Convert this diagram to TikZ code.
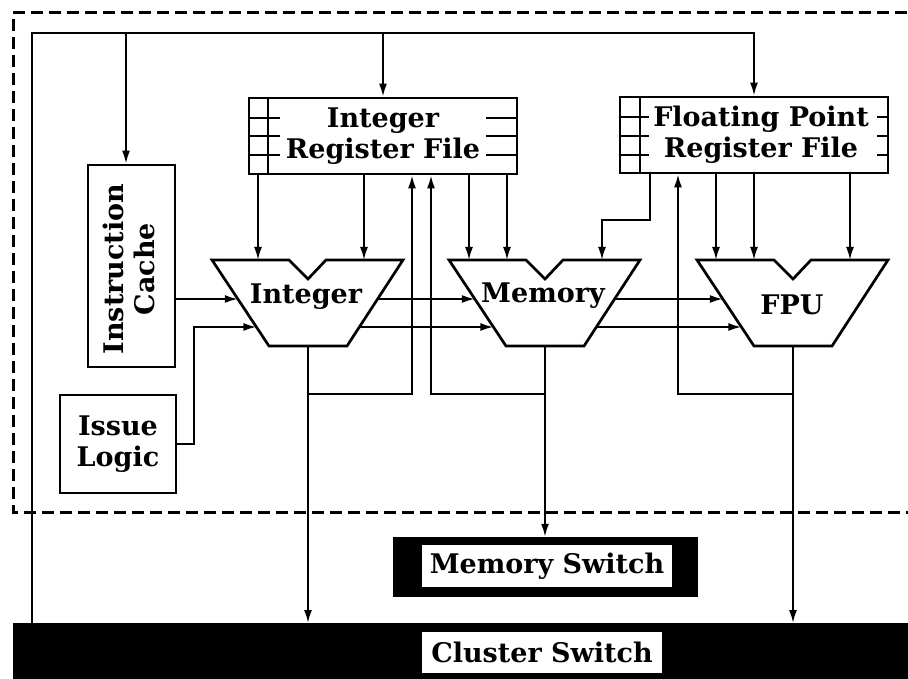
\documentclass[tikz,border=0pt]{standalone}
\usepackage{fontspec}
\setmainfont{DejaVu Serif}
\usetikzlibrary{arrows.meta}

% ALU outline with its port coordinates: #1 = prefix, #2 = left x of the top edge
\newcommand\aluoutline[2]{%
  \draw[box] (#2,260) -- ++(77,0) -- ++(19,19) -- ++(18,-19) -- ++(77,0)
    -- ++(-56,86) -- ++(-78,0) -- cycle;
  \coordinate (#1-l1) at ({#2+(299-260)*57/86},299);
  \coordinate (#1-l2) at ({#2+(327-260)*57/86},327);
  \coordinate (#1-r1) at ({#2+191-(299-260)*56/86},299);
  \coordinate (#1-r2) at ({#2+191-(327-260)*56/86},327);
  \coordinate (#1-out) at ({#2+96},346);
}

\begin{document}
\begin{tikzpicture}[x=1pt,y=-1pt,
  wire/.style={line width=2pt},
  arr/.style={wire,-{Latex[length=13pt,width=8pt]}},
  box/.style={draw,line width=2.7pt,line join=miter},
  lbl/.style={font=\fontsize{27}{31}\selectfont\bfseries,align=center,inner sep=0pt},
]
\useasboundingbox (0,0) rectangle (908,679);

% cluster boundary
\draw[line width=3pt,dash pattern=on 12pt off 6pt] (925,13) -- (13,13) -- (13,512) -- (925,512);

% register files
\node[box,lbl,minimum width=268pt,minimum height=76pt] (intrf) at (383,136) {Integer\\Register File};
\draw[wire] (268,98) -- (268,174);
\foreach \y in {118,136,155} {
  \draw[wire] (249,\y) -- (280,\y);
  \draw[wire] (486,\y) -- (517,\y);
}
\node[box,minimum width=268pt,minimum height=76pt] (fprf) at (754,135) {};
\node[lbl] (fprft) at (761,135) {Floating Point\\Register File};
\draw[wire] (640,97) -- (640,173);
\foreach \y in {117,136,155} {
  \draw[wire] (620,\y) -- (649,\y);
  \draw[wire] (877,\y) -- (888,\y);
}

% instruction cache and issue logic
\node[box,minimum width=87pt,minimum height=202pt] (icache) at (131.5,266) {};
\node[lbl,rotate=90] (icachet) at (129,269) {Instruction\\Cache};
\node[box,lbl,minimum width=116pt,minimum height=98pt] (issue) at (118,444) {Issue\\Logic};

% functional units
\aluoutline{ia}{212}
\aluoutline{ma}{449}
\aluoutline{fa}{697}
\node[lbl] (ialu) at (306,297) {Integer};
\node[lbl] (malu) at (543,296) {Memory};
\node[lbl] (fpu) at (792,305) {FPU};

% switches
\node[fill=black,minimum width=305pt,minimum height=60pt] (memsw) at (545.5,567) {};
\node[lbl,fill=white,minimum width=250pt,minimum height=42pt] (memswt) at (547,566) {Memory Switch};
\node[fill=black,anchor=north west,minimum width=920pt,minimum height=70pt] (clsw) at (13,623) {};
\node[lbl,fill=white,minimum width=240pt,minimum height=41pt] (clswt) at (542,652.5) {Cluster Switch};

% register file read ports
\coordinate (ia1) at (258,260);
\coordinate (ia2) at (364,260);
\coordinate (ma1) at (469,260);
\coordinate (ma2) at (507,260);
\coordinate (ma3) at (602,260);
\coordinate (fa1) at (716,260);
\coordinate (fa2) at (754,260);
\coordinate (fa3) at (850,260);
\coordinate (fpm) at (650,220);
\foreach \p in {ia1,ia2,ma1,ma2} \draw[arr] (intrf.south -| \p) -- (\p);
\foreach \p in {fa1,fa2,fa3} \draw[arr] (fprf.south -| \p) -- (\p);
\draw[arr] (fprf.south -| fpm) -- (fpm) -| (ma3);

% instruction delivery
\draw[arr] (icache.east |- ia-l1) -- (ia-l1);
\draw[arr] (issue.east) -- ++(17,0) |- (ia-l2);

% operand forwarding between units
\draw[arr] (ia-r1) -- (ma-l1);
\draw[arr] (ia-r2) -- (ma-l2);
\draw[arr] (ma-r1) -- (fa-l1);
\draw[arr] (ma-r2) -- (fa-l2);

% results and write-back
\coordinate (fbI) at (412,394);
\coordinate (fbM) at (431,394);
\coordinate (fbF) at (678,394);
\draw[arr] (ia-out) -- (ia-out |- clsw.north);
\draw[arr] (ia-out |- fbI) -- (fbI) -- (fbI |- intrf.south);
\draw[arr] (ma-out) -- (ma-out |- memsw.north);
\draw[arr] (ma-out |- fbM) -- (fbM) -- (fbM |- intrf.south);
\draw[arr] (fa-out) -- (fa-out |- clsw.north);
\draw[arr] (fa-out |- fbF) -- (fbF) -- (fbF |- fprf.south);

% bus from the cluster switch
\coordinate (busL) at (32,33);
\draw[arr] (busL |- clsw.north) -- (busL) -| (fprf.north);
\draw[arr] ([xshift=-5.5pt]icache.north |- busL) -- ([xshift=-5.5pt]icache.north);
\draw[arr] (intrf.north |- busL) -- (intrf.north);
\end{tikzpicture}
\end{document}
